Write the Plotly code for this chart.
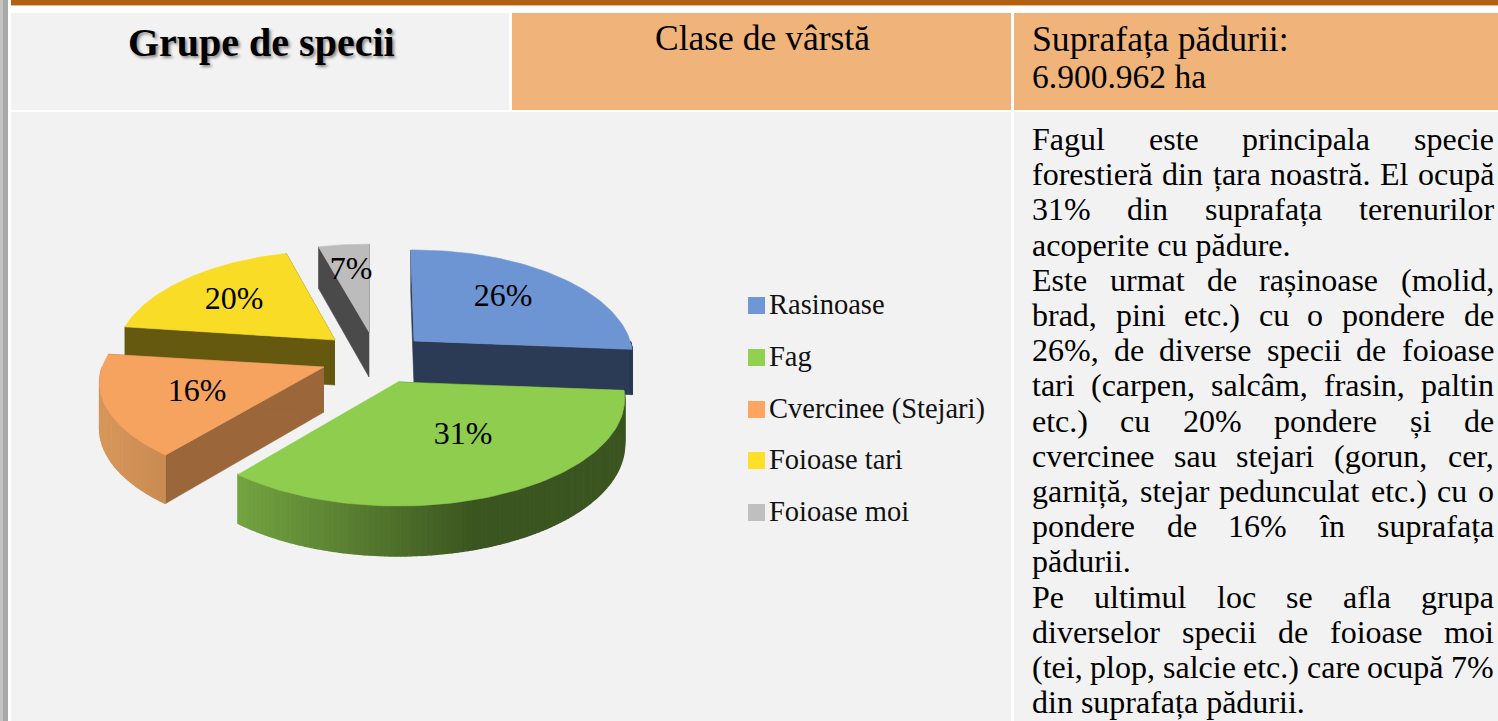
import numpy as np
import plotly.graph_objects as go

# ---------- data ----------
CATEGORIES = ["Rasinoase", "Fag", "Cvercinee (Stejari)", "Foioase tari", "Foioase moi"]
SHARES = [26, 31, 16, 20, 7]
TITLE = "Grupe de specii"
HEADER_MID = "Clase de vârstă"
HEADER_RIGHT = ["Suprafața pădurii:", "6.900.962 ha"]
BODY_LINES = [
    ("Fagul este principala specie", True),
    ("forestieră din țara noastră. El ocupă", True),
    ("31% din suprafața terenurilor", True),
    ("acoperite cu pădure.", False),
    ("Este urmat de rașinoase (molid,", True),
    ("brad, pini etc.) cu o pondere de", True),
    ("26%, de diverse specii de foioase", True),
    ("tari (carpen, salcâm, frasin, paltin", True),
    ("etc.) cu 20% pondere și de", True),
    ("cvercinee sau stejari (gorun,  cer,", True),
    ("garniță, stejar pedunculat etc.) cu o", True),
    ("pondere de 16% în suprafața", True),
    ("pădurii.", False),
    ("Pe ultimul loc se afla grupa", True),
    ("diverselor specii de foioase moi", True),
    ("(tei, plop, salcie etc.) care ocupă 7%", True),
    ("din suprafața pădurii.", False),
]

# ---------- styling ----------
TOP_COLORS = ["#6e95d3", "#8ecd4e", "#f5a35f", "#f8dc26", "#bcbcbc"]
WALL_COLORS = ["#2b3a55", "#3b5520", "#9a663a", "#65590f", "#4a4a4a"]
LEGEND_COLORS = ["#6f97d5", "#92d050", "#ffa562", "#ffe028", "#bfbfbf"]
FONT = "Liberation Serif"

# exploded position of each slice's tip
TIP_X = [414, 398, 324, 335, 369]
TIP_Y = [341, 382, 367, 340, 332]
# 3-D view of the pie
RX, RY, PERSP, DEPTH = 224, 105, 0.1535, 45
SCALE_X = [0.965, 1.0, 0.99, 0.965, 1.0]
SCALE_Y = [1.0, 1.0, 0.95, 0.98, 0.965]
VIEW_IN = [0, 93.6, 205.2, 262.8, 334.8, 360]
VIEW_OUT = [-1, 94.5, 219, 277.5, 345, 360]
LABEL_X = [503, 463, 197, 234, 351]
LABEL_Y = [298, 436, 393, 301, 271]
LEGEND_X = 756.5
LEGEND_TEXT_X = 769
LEGEND_Y = [305.5, 357.5, 409.5, 460.5, 512.5]


def project(i, deg):
    t = np.radians(deg)
    f = 1 / (1 + PERSP * np.cos(t))
    return (TIP_X[i] + RX * SCALE_X[i] * np.sin(t) * f,
            TIP_Y[i] - RY * SCALE_Y[i] * np.cos(t) * f)


def drop(tip_y, y):
    return y + DEPTH + 0.04 * (y - tip_y)


def poly(x, y, color, lw=0.6):
    return go.Scatter(x=list(x), y=list(y), mode="lines", fill="toself", fillcolor=color,
                      line=dict(color=color, width=lw), hoverinfo="skip", showlegend=False)


def mix(c1, c2, t):
    a = [int(c1[i:i + 2], 16) for i in (1, 3, 5)]
    b = [int(c2[i:i + 2], 16) for i in (1, 3, 5)]
    return "#" + "".join(f"{round(p + (q - p) * t):02x}" for p, q in zip(a, b))


fig = go.Figure()
edges = np.concatenate([[0], np.cumsum(SHARES)]) / sum(SHARES) * 360
warp = np.interp(edges, VIEW_IN, VIEW_OUT)

for i in [4, 3, 0, 2, 1]:
    a0, a1 = warp[i], warp[i + 1]
    tx, ty = TIP_X[i], TIP_Y[i]
    wall = WALL_COLORS[i]
    # flat cut faces
    for k, ang in enumerate((a0, a1)):
        if i == 1 and k == 1:
            continue
        px, py = project(i, ang)
        fig.add_trace(poly([tx, px, px, tx], [ty, py, drop(ty, py), ty + DEPTH], wall))
    # outer rim, only where it faces the viewer
    lo, hi = max(a0, 90), min(a1, 270)
    if hi > lo:
        steps = np.linspace(lo, hi, 111 if i == 1 else 31)
        for s0, s1 in zip(steps[:-1], steps[1:]):
            x0, y0 = project(i, s0)
            x1, y1 = project(i, s1)
            xm = (x0 + x1) / 2
            if i == 1:
                col = mix("#73a340", "#3b5520", np.clip((xm - 240) / 235, 0, 1))
            elif i == 2:
                col = mix("#d6965a", "#cb8c52", np.clip((xm - 105) / 55, 0, 1))
            else:
                col = wall
            fig.add_trace(poly([x0, x1, x1, x0], [y0, y1, drop(ty, y1), drop(ty, y0)], col, 1.4))
    # top face
    ang = np.linspace(a0, a1, 80)
    ax, ay = project(i, ang)
    fig.add_trace(poly(np.r_[tx, ax, tx], np.r_[ty, ay, ty], TOP_COLORS[i]))

# slice labels
fig.add_trace(go.Scatter(x=LABEL_X, y=LABEL_Y, mode="text", text=[f"{v}%" for v in SHARES],
                         textfont=dict(family=FONT, size=32, color="#000000"),
                         hoverinfo="skip", showlegend=False))

# legend
for name, col, ly in zip(CATEGORIES, LEGEND_COLORS, LEGEND_Y):
    fig.add_trace(go.Scatter(x=[LEGEND_X], y=[ly], mode="markers",
                             marker=dict(symbol="square", size=17, color=col),
                             hoverinfo="skip", showlegend=False))
    fig.add_trace(go.Scatter(x=[LEGEND_TEXT_X], y=[ly + 1.5], mode="text", text=[name],
                             textposition="middle right",
                             textfont=dict(family=FONT, size=28.5, color="#111111"),
                             hoverinfo="skip", showlegend=False))

# ---------- page panels ----------
GREY, ORANGE = "#f2f2f2", "#f0b47a"
PANELS = [
    (0, 3, 0, 721, "#c4c4c4"), (3, 8, 0, 721, "#a8a8a8"),
    (11, 1498, 0, 5, "#b26012"), (11, 1498, 5, 6, "#e9b98c"),
    (11, 509, 13, 110, GREY), (512, 1011, 13, 110, ORANGE), (1014, 1498, 13, 110, ORANGE),
    (11, 1011, 112, 721, GREY), (1014, 1498, 112, 721, GREY),
]
shapes = [dict(type="rect", xref="x", yref="y", x0=a, x1=b, y0=c, y1=d, fillcolor=col,
               line=dict(width=0), layer="below") for a, b, c, d, col in PANELS]

# ---------- texts ----------
ann = []


def note(x, y, text, size, anchor="left", bold=False, shadow=None):
    ann.append(dict(x=x, y=y, xref="x", yref="y", text=f"<b>{text}</b>" if bold else text,
                    showarrow=False, xanchor=anchor, yanchor="middle",
                    font=dict(family=FONT, size=size, color="#000000", shadow=shadow or "none"),
                    borderpad=0, borderwidth=0))


WIDTHS = {**{c: .5 for c in "bdghknopquvxy0123456789"}, **{c: .444 for c in "aceăâz"},
          **{c: .278 for c in "ijlțt"}, **{c: .333 for c in "frî()"},
          "s": .389, "ș": .389, "m": .778, "w": .722, ",": .25, ".": .25, ":": .278, "%": .833,
          "F": .556, "E": .611, "P": .556}


def word_width(w, size):
    return sum(WIDTHS.get(c, .5) for c in w) * size


BODY_SIZE = 32
BODY_L, BODY_R = 1032, 1494
BODY_TOP, BODY_STEP = 139, 35.2
for n, (line, justified) in enumerate(BODY_LINES):
    y = BODY_TOP + n * BODY_STEP
    if not justified:
        note(BODY_L, y, line, BODY_SIZE)
        continue
    words = line.split()
    sizes = [word_width(w, BODY_SIZE) for w in words]
    gap = (BODY_R - BODY_L - sum(sizes)) / (len(words) - 1)
    x = BODY_L
    for k, (w, s) in enumerate(zip(words, sizes)):
        if k == len(words) - 1:
            note(BODY_R, y, w, BODY_SIZE, anchor="right")
        else:
            note(x, y, w, BODY_SIZE)
        x += s + gap

note(261, 42, TITLE, 40, anchor="center", bold=True, shadow="2px 2px 3px #888888")
note(762, 38, HEADER_MID, 35.5, anchor="center")
note(1032, 39, HEADER_RIGHT[0], 35.7)
note(1032, 76, HEADER_RIGHT[1], 33.5)

fig.update_layout(
    width=1498, height=721, autosize=False, margin=dict(l=0, r=0, t=0, b=0),
    paper_bgcolor="#ffffff", plot_bgcolor="#ffffff", showlegend=False,
    xaxis=dict(range=[0, 1498], visible=False, fixedrange=True),
    yaxis=dict(range=[721, 0], visible=False, fixedrange=True),
    shapes=shapes, annotations=ann,
)
fig.write_html("out.html", config={"displayModeBar": False},
               post_script="document.body.style.margin='0';document.body.style.overflow='hidden';")
